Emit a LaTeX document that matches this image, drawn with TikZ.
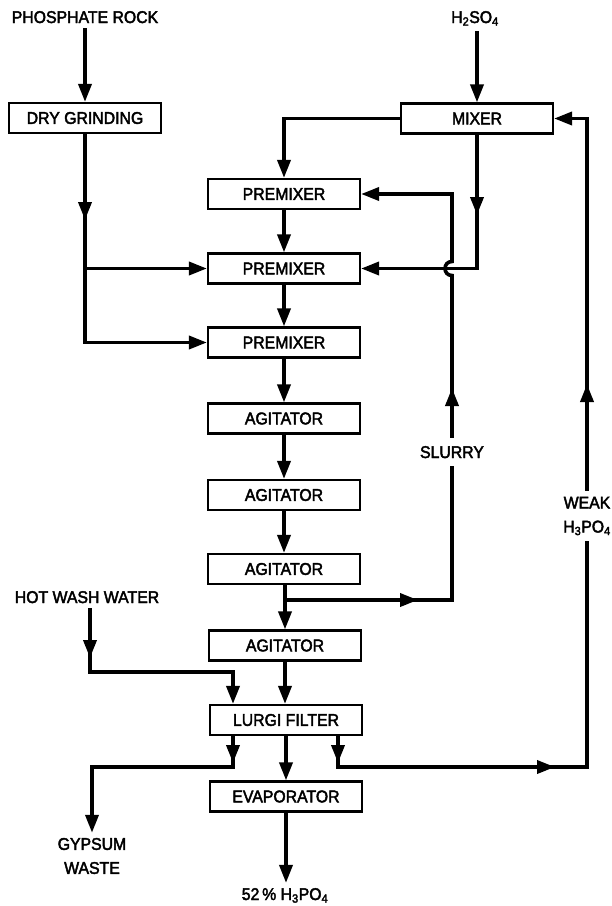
\documentclass[tikz,border=0pt]{standalone}
\usepackage{fontspec}
\setmainfont{Liberation Sans}[FakeStretch=0.93,FakeBold=2.5]
\usetikzlibrary{arrows.meta}
\begin{document}
\begin{tikzpicture}[x=1pt,y=-1pt,
  box/.style={draw, line width=2.2pt, minimum width=152pt, minimum height=30pt, inner sep=0pt, font=\fontsize{17}{20}\selectfont},
  lbl/.style={inner sep=5pt, align=center, font=\fontsize{17}{24}\selectfont},
  pipe/.style={line width=3.6pt},
  flow/.style={line width=3.6pt, -{Triangle[length=18pt,width=13pt]}},
]
\useasboundingbox (0,0) rectangle (612,906);

% labels
\node[lbl, anchor=base] (phos) at (85,23) {PHOSPHATE ROCK};
\node[lbl, anchor=base] (acid) at (475,23) {H\textsubscript{2}SO\textsubscript{4}};
\node[lbl, anchor=base, inner sep=8pt] (slurry) at (452,458) {SLURRY};
\node[lbl, inner sep=6pt] (weak) at (587,516) {WEAK\\H\textsubscript{3}PO\textsubscript{4}};
\node[lbl, anchor=base] (hot) at (87,603) {HOT WASH WATER};
\node[lbl] (gyp) at (92,856) {GYPSUM\\WASTE};
\node[lbl, anchor=base] (prod) at (285,900) {52\,\% H\textsubscript{3}PO\textsubscript{4}};

% boxes
\node[box] (dry) at (85,118) {DRY GRINDING};
\node[box] (mixer) at (477,118.5) {MIXER};
\node[box] (pm1) at (284,194) {PREMIXER};
\node[box] (pm2) at (284,268.5) {PREMIXER};
\node[box] (pm3) at (284,342.5) {PREMIXER};
\node[box] (ag1) at (284,418.5) {AGITATOR};
\node[box] (ag2) at (284,495) {AGITATOR};
\node[box] (ag3) at (284,569) {AGITATOR};
\node[box] (ag4) at (285,645.5) {AGITATOR};
\node[box] (lurgi) at (286,720) {LURGI FILTER};
\node[box] (evap) at (286,796.5) {EVAPORATOR};

% inputs
\draw[flow] (phos.south -| dry.north) -- (dry.north);
\draw[flow] (mixer.north |- acid.south) -- (mixer.north);

% dry grinding to premixers
\coordinate (d1) at (85,220);
\draw[flow] (dry.south) |- (pm3.west);
\draw[flow] (dry.south) -- (d1);
\draw[flow] (dry.south |- pm2.west) -- (pm2.west);

% mixer to premixers
\draw[flow] (mixer.west) -| (pm1.north);
\coordinate (m1) at (477,215);
\draw[flow] (mixer.south) |- (pm2.east);
\draw[flow] (mixer.south) -- (m1);

% main column
\draw[flow] (pm1) -- (pm2);
\draw[flow] (pm2) -- (pm3);
\draw[flow] (pm3) -- (ag1);
\draw[flow] (ag1) -- (ag2);
\draw[flow] (ag2) -- (ag3);
\draw[flow] (ag3.south -| ag4.north) -- (ag4.north);
\draw[flow] (ag4.south) -- (ag4.south |- lurgi.north);
\draw[flow] (lurgi.south) -- (evap.north);
\draw[flow] (evap.south) -- (evap.south |- prod.north);

% slurry recycle
\coordinate (s0) at (285,600);
\coordinate (s1) at (418,600);
\draw[pipe] (s0) -| (slurry.south);
\draw[flow] (s0) -- (s1);
\coordinate (s2) at (452,388);
\draw[flow] (slurry.north) -- (452,275.5) .. controls (442.7,275.5) and (442.7,261.5) .. (452,261.5) |- (pm1.east);
\draw[flow] (slurry.north) -- (s2);

% hot wash water
\coordinate (h1) at (90,658);
\coordinate (h2) at (233,672);
\draw[flow] (hot.south -| h1) |- (h2) -- (h2 |- lurgi.north);
\draw[flow] (hot.south -| h1) -- (h1);

% gypsum waste
\coordinate (g1) at (233,763);
\coordinate (g2) at (233,767);
\draw[flow] (g1 |- lurgi.south) -- (g2) -| (gyp.north);
\draw[flow] (g1 |- lurgi.south) -- (g1);

% weak acid recycle
\coordinate (r1) at (338,763);
\coordinate (r0) at (338,767);
\coordinate (r2) at (555,767);
\draw[pipe] (r1 |- lurgi.south) -- (r0) -| (weak.south);
\draw[flow] (r1 |- lurgi.south) -- (r1);
\draw[flow] (r0) -- (r2);
\coordinate (w1) at (587,384);
\draw[flow] (weak.north) |- (mixer.east);
\draw[flow] (weak.north) -- (w1);
\end{tikzpicture}
\end{document}
